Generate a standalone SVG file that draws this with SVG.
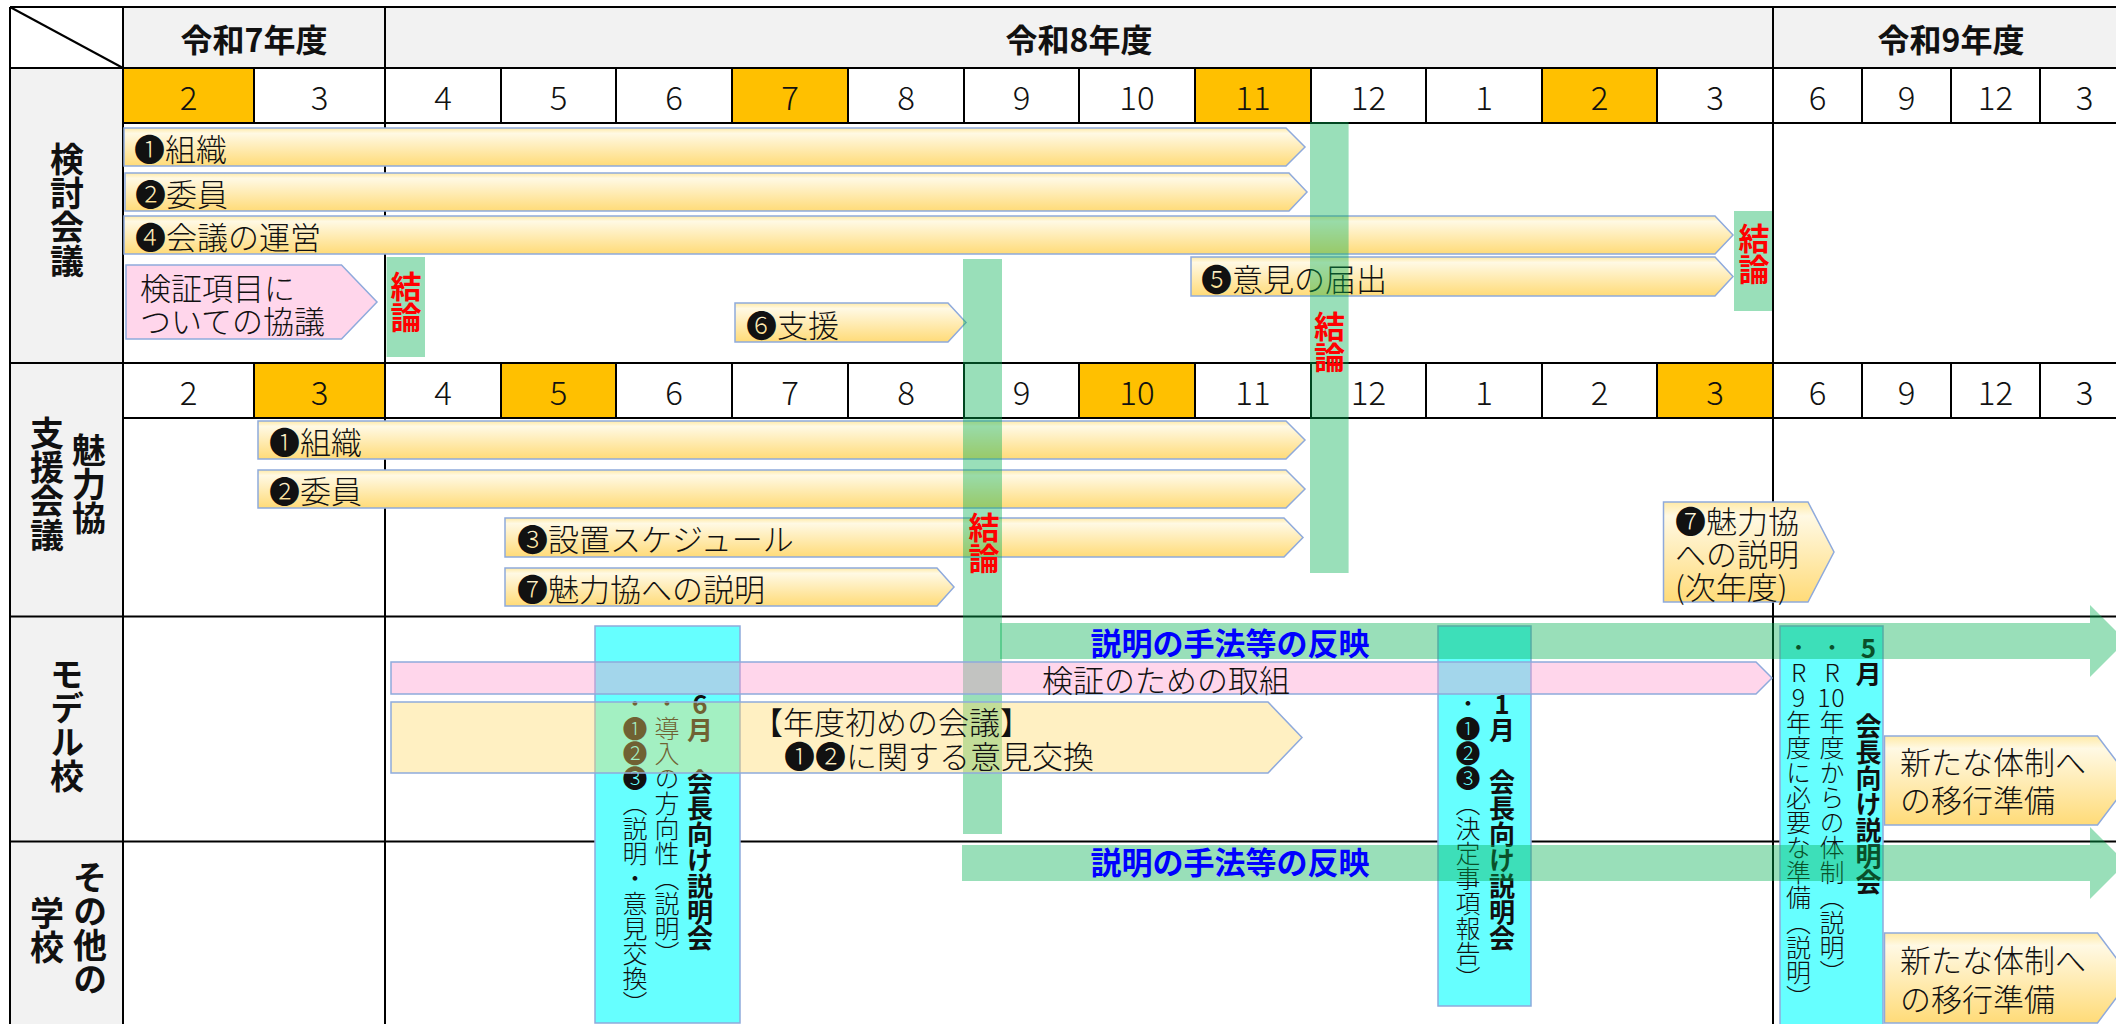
<svg xmlns="http://www.w3.org/2000/svg" width="2116" height="1024" viewBox="0 0 2116 1024">
<defs>
<linearGradient id="yg" x1="0" y1="0" x2="0" y2="1">
<stop offset="0" stop-color="#FFEAA6"/>
<stop offset="0.14" stop-color="#FFF9E4"/>
<stop offset="1" stop-color="#FFDB78"/>
</linearGradient>
<style>
text{font-family:"Noto Sans CJK JP","Noto Sans",sans-serif;fill:#111}
.ln{stroke:#000;stroke-width:2;fill:none}
.grey{fill:#F2F2F2}
.or{fill:#FFC000}
.m{font-size:33px;text-anchor:middle;dominant-baseline:central;font-weight:300}
.h{font-size:32px;font-weight:bold;text-anchor:middle;dominant-baseline:central}
.lab{font-size:34px;font-weight:bold;writing-mode:vertical-rl;text-anchor:middle}
.bar{font-size:31px;dominant-baseline:central;font-weight:300}
.ket{font-size:31px;font-weight:bold;fill:#FF0000;writing-mode:vertical-rl;text-anchor:middle}
.vb{font-size:26px;font-weight:bold;writing-mode:vertical-rl;text-orientation:upright}
.vt{font-size:25px;font-weight:300}
.blue{font-size:31px;font-weight:bold;fill:#0000FF;text-anchor:middle;dominant-baseline:central}
.g{fill:#00B050;fill-opacity:.4}
.pk{fill:#FF99CC;fill-opacity:.4;stroke:#8FAADC;stroke-width:1.5}
.py{fill:#FFD966;fill-opacity:.4;stroke:#8FAADC;stroke-width:1.5}
.yb{fill:url(#yg);stroke:#8FAADC;stroke-width:1.5}
.cy{fill:#66FFFF;stroke:#8FAADC;stroke-width:1.5}
</style>
</defs>
<rect width="2116" height="1024" fill="#fff"/>
<g id="table">
<rect class="grey" x="123" y="7" width="2000" height="61"/>
<rect class="grey" x="10" y="68" width="113" height="960"/>
<rect class="or" x="123" y="68" width="131" height="55"/>
<rect class="or" x="732" y="68" width="116" height="55"/>
<rect class="or" x="1195" y="68" width="116" height="55"/>
<rect class="or" x="1542" y="68" width="115" height="55"/>
<rect class="or" x="254" y="363" width="131" height="55"/>
<rect class="or" x="501" y="363" width="115" height="55"/>
<rect class="or" x="1079" y="363" width="116" height="55"/>
<rect class="or" x="1657" y="363" width="116" height="55"/>
<path class="ln" d="M10 7H2116M10 68H2116M123 123H2116M10 363H2116M123 418H2116M10 616.5H2116M10 841.5H2116"/>
<path class="ln" d="M10 7V1024M123 7V1024M385 7V1024M1773 7V1024"/>
<path class="ln" d="M254 68V123M501 68V123M616 68V123M732 68V123M848 68V123M964 68V123M1079 68V123M1195 68V123M1311 68V123M1426 68V123M1542 68V123M1657 68V123M1862 68V123M1951 68V123M2040 68V123"/>
<path class="ln" d="M254 363V418M501 363V418M616 363V418M732 363V418M848 363V418M964 363V418M1079 363V418M1195 363V418M1311 363V418M1426 363V418M1542 363V418M1657 363V418M1862 363V418M1951 363V418M2040 363V418"/>
<path class="ln" d="M10 7L123 68"/>
<text class="h" x="254" y="38">令和7年度</text>
<text class="h" x="1079" y="38">令和8年度</text>
<text class="h" x="1951" y="38">令和9年度</text>
<g id="months1">
<text class="m" x="188.5" y="96">2</text><text class="m" x="319.5" y="96">3</text>
<text class="m" x="443" y="96">4</text><text class="m" x="558.5" y="96">5</text>
<text class="m" x="674" y="96">6</text><text class="m" x="790" y="96">7</text>
<text class="m" x="906" y="96">8</text><text class="m" x="1021.5" y="96">9</text>
<text class="m" x="1137" y="96">10</text><text class="m" x="1253" y="96">11</text>
<text class="m" x="1368.5" y="96">12</text><text class="m" x="1484" y="96">1</text>
<text class="m" x="1599.5" y="96">2</text><text class="m" x="1715" y="96">3</text>
<text class="m" x="1817.5" y="96">6</text><text class="m" x="1906.5" y="96">9</text>
<text class="m" x="1995.5" y="96">12</text><text class="m" x="2084.5" y="96">3</text>
</g>
<g id="months2">
<text class="m" x="188.5" y="391">2</text><text class="m" x="319.5" y="391">3</text>
<text class="m" x="443" y="391">4</text><text class="m" x="558.5" y="391">5</text>
<text class="m" x="674" y="391">6</text><text class="m" x="790" y="391">7</text>
<text class="m" x="906" y="391">8</text><text class="m" x="1021.5" y="391">9</text>
<text class="m" x="1137" y="391">10</text><text class="m" x="1253" y="391">11</text>
<text class="m" x="1368.5" y="391">12</text><text class="m" x="1484" y="391">1</text>
<text class="m" x="1599.5" y="391">2</text><text class="m" x="1715" y="391">3</text>
<text class="m" x="1817.5" y="391">6</text><text class="m" x="1906.5" y="391">9</text>
<text class="m" x="1995.5" y="391">12</text><text class="m" x="2084.5" y="391">3</text>
</g>
</g>
<g id="row-labels">
<text class="lab" x="67" y="210">検討会議</text>
<text class="lab" x="89" y="484">魅力協<tspan x="47" y="484">支援会議</tspan></text>
<text class="lab" x="67" y="725">モデル校</text>
<text class="lab" x="90" y="928">その他の<tspan x="47" y="930">学校</tspan></text>
</g>
<g id="kentou-bars">
<g id="k1"><path class="yb" d="M124 128H1286L1305 147L1286 166H124Z"/><text class="bar" x="134" y="147">❶組織</text></g>
<g id="k2"><path class="yb" d="M125 173H1289L1307 192L1289 211H125Z"/><text class="bar" x="135" y="192">❷委員</text></g>
<g id="k4"><path class="yb" d="M124 216H1715L1733 235L1715 254H124Z"/><text class="bar" x="135" y="235">❹会議の運営</text></g>
<g id="k5"><path class="yb" d="M1191 257H1715L1733 276.5L1715 296H1191Z"/><text class="bar" x="1201" y="277">❺意見の届出</text></g>
<g id="k6"><path class="yb" d="M735 303H948L966 322.5L948 342H735Z"/><text class="bar" x="746" y="323">❻支援</text></g>
<g id="kpink"><path class="pk" d="M126 265H341.5L377 302L341.5 339H126Z"/><text class="bar" x="140" y="286">検証項目に<tspan x="140" y="319">ついての協議</tspan></text></g>
</g>
<g id="miryoku-bars">
<g id="m1"><path class="yb" d="M258 421H1286L1305 440L1286 459H258Z"/><text class="bar" x="269" y="440">❶組織</text></g>
<g id="m2"><path class="yb" d="M258 470H1286L1305 489L1286 508H258Z"/><text class="bar" x="269" y="489">❷委員</text></g>
<g id="m3"><path class="yb" d="M505 518H1284L1303 537.5L1284 557H505Z"/><text class="bar" x="517" y="537.5">❸設置スケジュール</text></g>
<g id="m7"><path class="yb" d="M505 568H937L954 587L937 606H505Z"/><text class="bar" x="517" y="587">❼魅力協への説明</text></g>
<g id="m7n"><path class="yb" d="M1663.5 502H1808L1834 552L1808 602H1663.5Z"/><text class="bar" x="1675" y="519">❼魅力協<tspan x="1675" y="552">への説明</tspan><tspan x="1675" y="585">(次年度)</tspan></text></g>
</g>
<g id="conclusions">
<g id="c1"><rect class="g" x="386.6" y="257" width="38.4" height="100"/><text class="ket" x="406" y="302">結論</text></g>
<g id="c2"><rect class="g" x="963" y="259" width="39" height="575"/><text class="ket" x="984" y="543">結論</text></g>
<g id="c3"><rect class="g" x="1310" y="122" width="38.6" height="451"/><text class="ket" x="1329.5" y="342">結論</text></g>
<g id="c4"><rect class="g" x="1734" y="211" width="38" height="100"/><text class="ket" x="1754" y="254">結論</text></g>
</g>
<g id="meetings">
<g id="b6"><rect class="cy" x="595" y="626" width="145" height="397"/>
<text class="vb" x="700" y="691">6月　会長向け説明会<tspan class="vt" x="667" y="691">・導入の方向性（説明）</tspan><tspan class="vt" x="635" y="691">・❶❷❸（説明・意見交換）</tspan></text></g>
<g id="b1"><rect class="cy" x="1438" y="626" width="93" height="380"/>
<text class="vb" x="1502" y="691">1月　会長向け説明会<tspan class="vt" x="1468" y="691">・❶❷❸（決定事項報告）</tspan></text></g>
<g id="b5"><rect class="cy" x="1780" y="626" width="103" height="400"/>
<text class="vb" x="1868.5" y="635">5月　会長向け説明会<tspan class="vt"><tspan x="1832" y="635">・R</tspan><tspan x="1824" y="685">1</tspan><tspan x="1838" y="685">0</tspan><tspan x="1832" y="710">年度からの体制（説明）</tspan><tspan x="1798.5" y="635">・R9年度に必要な準備（説明）</tspan></tspan></text></g>
</g>
<g id="connectors">
<g id="arrow-model"><path class="g" d="M1000 623H2090V605L2126 641L2090 677V659H1000Z"/><text class="blue" x="1230" y="641">説明の手法等の反映</text></g>
<g id="arrow-other"><path class="g" d="M962 845H2090V827L2126 863L2090 899V881H962Z"/><text class="blue" x="1230" y="860">説明の手法等の反映</text></g>
</g>
<g id="model-bars">
<g id="mp"><path class="pk" d="M391 662H1756L1772 678L1756 694H391Z"/><text class="bar" x="1166" y="678.5" text-anchor="middle">検証のための取組</text></g>
<g id="my"><path class="py" d="M391 702H1268L1302 737.5L1268 773H391Z"/><text class="bar" x="752" y="720">【年度初めの会議】<tspan x="784" y="754">❶❷に関する意見交換</tspan></text></g>
</g>
<g id="new-system">
<g id="ns1"><path class="yb" d="M1884.5 736H2097.5L2131 780.5L2097.5 825H1884.5Z"/><text class="bar" x="1900" y="760">新たな体制へ<tspan x="1900" y="798">の移行準備</tspan></text></g>
<g id="ns2"><path class="yb" d="M1884.5 933H2097.5L2131 978L2097.5 1023H1884.5Z"/><text class="bar" x="1900" y="958">新たな体制へ<tspan x="1900" y="996.5">の移行準備</tspan></text></g>
</g>
</svg>
